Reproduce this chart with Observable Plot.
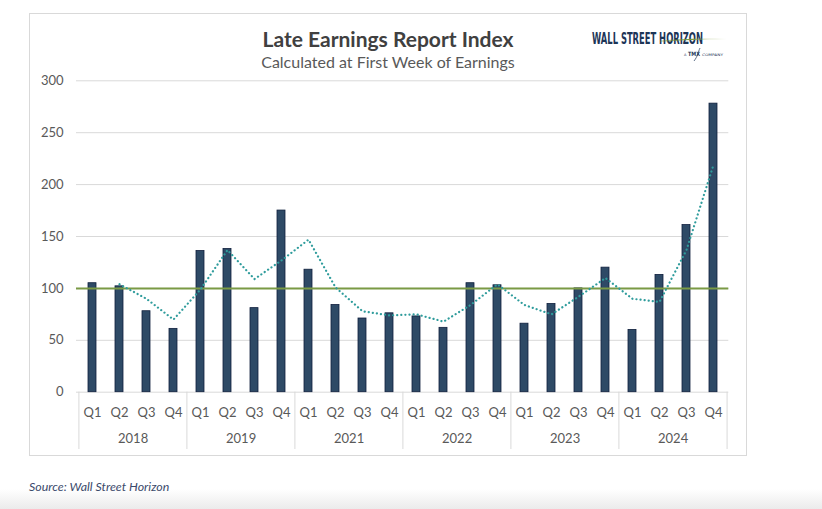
<!DOCTYPE html>
<html>
<head>
<meta charset="utf-8">
<script src="https://cdn.jsdelivr.net/npm/d3@7"></script>
<script src="https://cdn.jsdelivr.net/npm/@observablehq/plot@0.6"></script>
<style>
  html, body { margin: 0; padding: 0; background: #ffffff; }
  #wrap { position: relative; width: 822px; height: 509px; overflow: hidden; font-family: Lato, "Open Sans", sans-serif; }
  #frame { position: absolute; left: 29px; top: 13px; width: 716px; height: 441px; border: 1px solid #d9d9d9; }
  #chart { position: absolute; left: 0; top: 0; }
  #title { position: absolute; left: 0; width: 776px; top: 26.6px; text-align: center; font-size: 21px; line-height: 24px; font-weight: 700; color: #404040; }
  #subtitle { position: absolute; left: 0; width: 776px; top: 51.5px; text-align: center; font-size: 16px; line-height: 20px; color: #595959; }
  #logo { position: absolute; left: 590px; top: 28px; }
  #shade { position: absolute; left: 0; top: 489px; width: 822px; height: 20px; background: linear-gradient(#ffffff, #ebebeb); }
  #source { position: absolute; left: 29px; top: 480.4px; font-size: 12.4px; line-height: 14px; font-style: italic; color: #3b4a6b; white-space: nowrap; }
</style>
</head>
<body>
<div id="wrap">
  <div id="shade"></div>
  <div id="frame"></div>
  <div id="chart"></div>
  <div id="title">Late Earnings Report Index</div>
  <div id="subtitle">Calculated at First Week of Earnings</div>
  <svg id="logo" width="230" height="36" viewBox="0 0 230 36">
    <defs>
      <linearGradient id="sw" x1="0" x2="1" y1="0" y2="0">
        <stop offset="0" stop-color="#6f8f2f" stop-opacity="0.3"/>
        <stop offset="0.45" stop-color="#7c9a3a"/>
        <stop offset="1" stop-color="#c3d19c" stop-opacity="0.3"/>
      </linearGradient>
    </defs>
    <text x="2" y="16.3" textLength="111" lengthAdjust="spacingAndGlyphs" font-family="'DejaVu Sans Condensed', 'DejaVu Sans', sans-serif" font-weight="700" font-size="16.5" fill="#1d3557">WALL STREET HORIZON</text>
    <path d="M70,12.6 C92,10.6 112,10.4 137,11.0 C112,11.4 92,12.0 70,14.0 Z" fill="url(#sw)"/>
    <text x="94" y="27.7" font-family="'DejaVu Sans', sans-serif" font-size="3.5" fill="#1d3557">A</text>
    <text x="98" y="27.7" textLength="12" lengthAdjust="spacingAndGlyphs" font-family="'DejaVu Sans Condensed', sans-serif" font-weight="700" font-size="6" fill="#1d3557">TMX</text>
    <path d="M110,20 C108,24 108,28 104,33" stroke="#1d3557" stroke-width="0.7" fill="none"/>
    <text x="112" y="27.5" textLength="21" lengthAdjust="spacingAndGlyphs" font-family="'DejaVu Sans', sans-serif" font-size="3.3" fill="#1d3557">COMPANY</text>
  </svg>
  <div id="source">Source: Wall Street Horizon</div>
</div>
<script>
// ---- data ----
const years = ["2018", "2019", "2021", "2022", "2023", "2024"];
const quarters = ["Q1", "Q2", "Q3", "Q4"];
const indexValues = [
  105, 102, 78, 61,
  136, 138, 81, 175,
  118, 84, 71, 76,
  73, 62, 105, 103,
  66, 85, 100, 120,
  60, 113, 161, 278
];
// dotted trend line (2-period moving average as drawn)
const trendValues = [
  null, 104, 90, 70,
  99, 137, 109, 127,
  147, 101, 78, 74,
  75, 68, 84, 104,
  84, 75, 92, 110,
  90, 87, 137, 219
];
const baseline = [100];
const yTicks = [0, 50, 100, 150, 200, 250, 300];

// ---- build table ----
const rows = [];
years.forEach((yr, yi) => quarters.forEach((q, qi) => {
  const i = yi * 4 + qi;
  rows.push({key: yr + " " + q, year: yr, quarter: q, value: indexValues[i], trend: trendValues[i]});
}));
const keys = rows.map(d => d.key);

const W = 822, H = 460, ML = 76, MR = 93.7, MT = 80.3, MB = 68.3;
const step = (W - ML - MR) / keys.length;
const firstKeys = years.map(y => y + " Q1");
const midKeys = years.map(y => y + " Q2");

const chart = Plot.plot({
  width: W,
  height: H,
  marginLeft: ML,
  marginRight: MR,
  marginTop: MT,
  marginBottom: MB,
  style: {fontFamily: "Lato, 'Open Sans', sans-serif", fontSize: "13px", color: "#595959", background: "transparent", overflow: "visible"},
  x: {type: "band", domain: keys, paddingInner: 0.7, paddingOuter: 0.35},
  y: {domain: [0, 300]},
  marks: [
    Plot.gridY(yTicks, {stroke: "#d9d9d9", strokeOpacity: 1, strokeWidth: 1}),
    Plot.ruleX(firstKeys, {x: d => d, y1: 0, y2: 0, dx: -step / 2, insetBottom: -57.3, stroke: "#d9d9d9", strokeWidth: 1}),
    Plot.ruleX([keys[keys.length - 1]], {x: d => d, y1: 0, y2: 0, dx: step / 2, insetBottom: -57.3, stroke: "#d9d9d9", strokeWidth: 1}),
    Plot.barY(rows, {x: "key", y: "value", fill: "#2e4a66", stroke: "#0f1f3d", strokeWidth: 0.8}),
    Plot.ruleY(baseline, {stroke: "#7a9a45", strokeWidth: 2}),
    Plot.line(rows, {x: "key", y: "trend", stroke: "#2f9c9c", strokeWidth: 2.2, strokeDasharray: "0.1,4", strokeLinecap: "round"}),
    Plot.axisY(yTicks, {tickSize: 0, tickPadding: 13, label: null, fontSize: 13}),
    Plot.axisX({tickSize: 0, tickPadding: 16, label: null, tickFormat: d => d.split(" ")[1], fontSize: 13}),
    Plot.text(rows.filter(d => midKeys.includes(d.key)), {x: "key", text: "year", frameAnchor: "bottom", dx: step / 2, dy: 50.3, fill: "currentColor", fontSize: 13})
  ]
});
document.getElementById("chart").appendChild(chart);
</script>
</body>
</html>
